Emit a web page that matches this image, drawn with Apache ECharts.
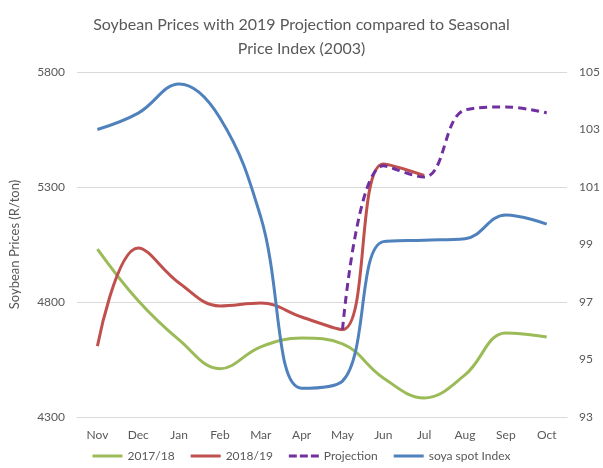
<!DOCTYPE html>
<html>
<head>
<meta charset="utf-8">
<script src="https://cdn.jsdelivr.net/npm/echarts@6/dist/echarts.min.js"></script>
<style>
  html, body { margin: 0; padding: 0; background: #fff; }
  #main { width: 603px; height: 468px; }
</style>
</head>
<body>
<div id="main"></div>
<script>
var months = ['Nov', 'Dec', 'Jan', 'Feb', 'Mar', 'Apr', 'May', 'Jun', 'Jul', 'Aug', 'Sep', 'Oct'];
var prices1718 = [5030, 4805, 4635, 4510, 4605, 4643, 4618, 4470, 4383, 4483, 4665, 4648];
var prices1819 = [4608, 5035, 4883, 4783, 4796, 4735, 4680, 5400, 5350, null, null, null];
var projection = [null, null, null, null, null, null, 4680, 5392, 5343, 5635, 5648, 5622];
var spotIndex = [103.0, 103.57, 104.58, 103.4, 99.95, 94.0, 94.25, 99.1, 99.15, 99.2, 100.03, 99.71];

var font = 'Lato';
var grey = '#595959';

var myChart = echarts.init(document.getElementById('main'));

function line(name, data, color, axis, dashed) {
  return {
    name: name,
    type: 'line',
    data: data,
    yAxisIndex: axis,
    smooth: 0.4,
    symbol: 'none',
    connectNulls: false,
    lineStyle: { color: color, width: 3, type: dashed ? [8, 5] : 'solid' },
    itemStyle: { color: color }
  };
}

myChart.setOption({
  animation: false,
  textStyle: { fontFamily: font },
  title: {
    text: 'Soybean Prices with 2019 Projection compared to Seasonal\nPrice Index (2003)',
    left: 'center',
    top: 8,
    textStyle: { fontFamily: font, fontSize: 16, fontWeight: 'normal', color: grey, lineHeight: 24 }
  },
  legend: {
    bottom: 1,
    left: 'center',
    itemWidth: 30,
    itemHeight: 3,
    itemGap: 16,
    icon: 'rect',
    textStyle: { fontFamily: font, fontSize: 12, color: grey },
    data: ['2017/18', '2018/19',
      { name: 'Projection', icon: 'path://M0,0 H8 V3 H0 Z M11,0 H19 V3 H11 Z M22,0 H30 V3 H22 Z' },
      'soya spot Index']
  },
  grid: { left: 74, right: 34, top: 72, bottom: 51 },
  xAxis: {
    type: 'category',
    data: months,
    boundaryGap: true,
    axisLine: { lineStyle: { color: '#d9d9d9', width: 1 } },
    axisTick: { show: false },
    axisLabel: { color: grey, fontSize: 12, margin: 12, fontFamily: font }
  },
  yAxis: [{
    type: 'value',
    min: 4300,
    max: 5800,
    interval: 500,
    name: 'Soybean Prices (R/ton)',
    nameLocation: 'middle',
    nameGap: 56,
    nameTextStyle: { color: grey, fontSize: 13, fontFamily: font },
    axisLine: { show: false },
    axisTick: { show: false },
    axisLabel: { color: grey, fontSize: 12, margin: 12, fontFamily: font, formatter: function (v) { return String(v); } },
    splitLine: { lineStyle: { color: '#d9d9d9', width: 1 } }
  }, {
    type: 'value',
    min: 93,
    max: 105,
    interval: 2,
    position: 'right',
    axisLine: { show: false },
    axisTick: { show: false },
    axisLabel: { color: grey, fontSize: 12, margin: 12, fontFamily: font },
    splitLine: { show: false }
  }],
  series: [
    line('2017/18', prices1718, '#9bbb59', 0, false),
    line('2018/19', prices1819, '#c0504d', 0, false),
    line('Projection', projection, '#7030a0', 0, true),
    line('soya spot Index', spotIndex, '#4f81bd', 1, false)
  ]
});
</script>
</body>
</html>
